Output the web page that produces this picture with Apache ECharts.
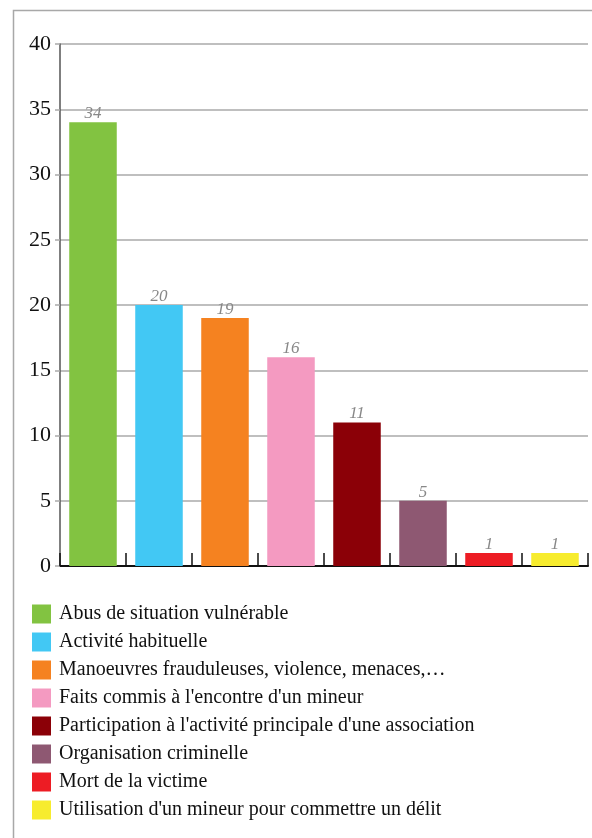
<!DOCTYPE html>
<html><head><meta charset="utf-8">
<script src="https://cdn.jsdelivr.net/npm/echarts@6/dist/echarts.min.js"></script>
<style>html,body{margin:0;padding:0;background:#fff}#c{width:592px;height:838px}</style>
</head><body><div id="c"></div>
<script>
const categories = ["Abus de situation vulnérable","Activité habituelle","Manoeuvres frauduleuses, violence, menaces,…","Faits commis à l'encontre d'un mineur","Participation à l'activité principale d'une association","Organisation criminelle","Mort de la victime","Utilisation d'un mineur pour commettre un délit"];
const values = [34, 20, 19, 16, 11, 5, 1, 1];
const colors = ["#82c341","#42c8f4","#f58220","#f49ac1","#8b0007","#8e5872","#ed1c24","#f7ec2e"];
const yTicks = [0, 5, 10, 15, 20, 25, 30, 35, 40];

const serif = "'Liberation Serif', 'DejaVu Serif', serif";
const chart = echarts.init(document.getElementById('c'), null, {renderer:'canvas'});
const series = categories.map((name, i) => ({
  name: name,
  type: 'bar',
  stack: 'all',
  barWidth: '72%',
  itemStyle: {color: colors[i]},
  label: {show: true, position: 'top', distance: 0, color: '#888', fontStyle: 'italic', fontFamily: serif, fontSize: 17},
  data: values.map((v, j) => j === i ? v : '-')
}));
chart.setOption({
  animation: false,
  graphic: [{type:'rect', shape:{x:13.5, y:10.5, width:700, height:900}, style:{fill:'none', stroke:'#a8a8a8', lineWidth:1.5}, z:-1}],
  grid: {left: 60, right: 4, top: 44, bottom: 272, containLabel: false},
  xAxis: {
    type: 'category', data: categories,
    axisLine: {lineStyle: {color: '#111', width: 2}},
    axisTick: {show: true, inside: true, interval: 0, length: 13, lineStyle: {color: '#111', width: 1.5}},
    axisLabel: {show: false, interval: 0}
  },
  yAxis: {
    type: 'value', min: yTicks[0], max: yTicks[yTicks.length-1], interval: 5,
    axisLine: {show: true, lineStyle: {color: '#555', width: 1.5}},
    axisTick: {show: true, length: 5, lineStyle: {color: '#aaa', width: 1.5}},
    splitLine: {lineStyle: {color: '#aaa', width: 1.5}},
    axisLabel: {color: '#111', fontFamily: serif, fontSize: 22, margin: 9}
  },
  legend: {
    orient: 'vertical', left: 32, top: 604, padding: 0,
    itemWidth: 19, itemHeight: 19, itemGap: 8,
    icon: 'rect',
    textStyle: {fontFamily: serif, fontSize: 20, lineHeight: 19, color: '#111', padding: [0,0,0,3]},
    data: categories
  },
  series: series
});
</script></body></html>
